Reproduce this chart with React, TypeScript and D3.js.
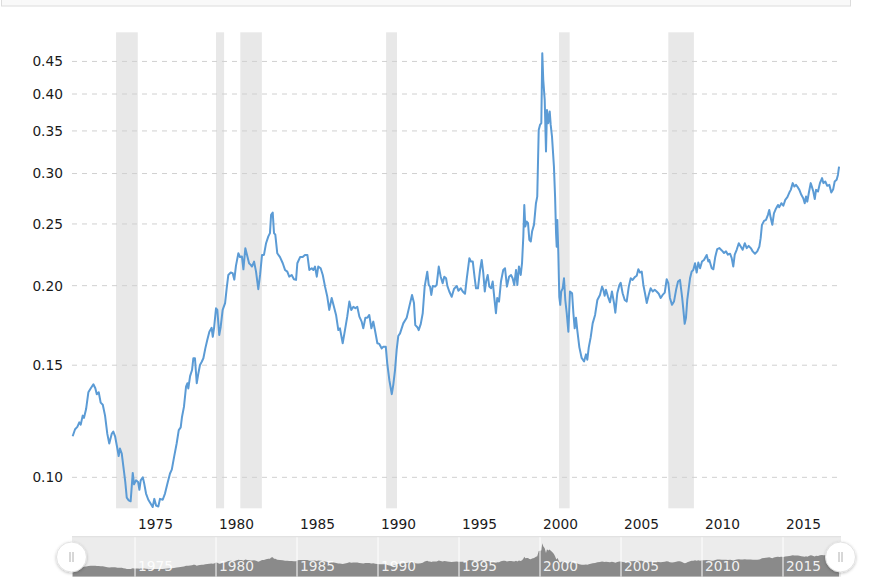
import React from "react";
import * as d3 from "d3";

const dates: number[] = [
  1971.15, 1971.3, 1971.44, 1971.56, 1971.65, 1971.77, 1971.85, 1971.98, 1972.12, 1972.27,
  1972.43, 1972.55, 1972.64, 1972.76, 1972.88, 1973.01, 1973.15, 1973.29, 1973.41, 1973.56,
  1973.66, 1973.77, 1973.91, 1973.99, 1974.07, 1974.18, 1974.28, 1974.4, 1974.49, 1974.61,
  1974.73, 1974.86, 1974.94, 1975.06, 1975.19, 1975.27, 1975.35, 1975.48, 1975.56, 1975.68,
  1975.82, 1975.97, 1976.09, 1976.19, 1976.3, 1976.44, 1976.54, 1976.71, 1976.85, 1976.99,
  1977.16, 1977.27, 1977.41, 1977.57, 1977.7, 1977.82, 1977.9, 1978.02, 1978.15, 1978.23,
  1978.29, 1978.4, 1978.52, 1978.6, 1978.7, 1978.81, 1978.91, 1979.01, 1979.12, 1979.22,
  1979.34, 1979.46, 1979.59, 1979.73, 1979.8, 1979.88, 1980.0, 1980.08, 1980.2, 1980.29,
  1980.41, 1980.56, 1980.66, 1980.76, 1980.91, 1981.03, 1981.13, 1981.23, 1981.38, 1981.48,
  1981.6, 1981.69, 1981.81, 1981.93, 1982.04, 1982.14, 1982.22, 1982.35, 1982.47, 1982.61,
  1982.72, 1982.84, 1982.96, 1983.09, 1983.23, 1983.33, 1983.4, 1983.5, 1983.58, 1983.66,
  1983.78, 1983.95, 1984.12, 1984.26, 1984.4, 1984.52, 1984.67, 1984.81, 1984.94, 1985.02,
  1985.19, 1985.35, 1985.49, 1985.64, 1985.76, 1985.91, 1986.01, 1986.11, 1986.22, 1986.31,
  1986.46, 1986.59, 1986.73, 1986.87, 1986.99, 1987.14, 1987.28, 1987.41, 1987.55, 1987.65,
  1987.82, 1987.96, 1988.1, 1988.23, 1988.35, 1988.48, 1988.6, 1988.72, 1988.85, 1988.99,
  1989.09, 1989.22, 1989.34, 1989.46, 1989.59, 1989.71, 1989.83, 1989.96, 1990.08, 1990.23,
  1990.33, 1990.48, 1990.57, 1990.7, 1990.85, 1990.94, 1991.05, 1991.15, 1991.25, 1991.36,
  1991.56, 1991.77, 1991.93, 1992.1, 1992.22, 1992.3, 1992.43, 1992.51, 1992.64, 1992.76,
  1992.88, 1993.04, 1993.13, 1993.21, 1993.29, 1993.38, 1993.52, 1993.62, 1993.75, 1993.87,
  1993.99, 1994.09, 1994.2, 1994.28, 1994.4, 1994.55, 1994.69, 1994.86, 1994.96, 1995.11,
  1995.23, 1995.37, 1995.48, 1995.64, 1995.74, 1995.85, 1995.97, 1996.05, 1996.17, 1996.3,
  1996.4, 1996.5, 1996.59, 1996.67, 1996.77, 1996.87, 1996.98, 1997.08, 1997.18, 1997.28,
  1997.36, 1997.47, 1997.59, 1997.73, 1997.84, 1997.96, 1998.09, 1998.21, 1998.31, 1998.41,
  1998.52, 1998.6, 1998.7, 1998.81, 1998.89, 1998.97, 1999.03, 1999.09, 1999.18, 1999.26,
  1999.34, 1999.43, 1999.51, 1999.63, 1999.75, 1999.83, 1999.92, 2000.0, 2000.08, 2000.14,
  2000.2, 2000.29, 2000.37, 2000.43, 2000.51, 2000.6, 2000.66, 2000.74, 2000.86, 2000.93,
  2000.99, 2001.03, 2001.07, 2001.13, 2001.19, 2001.25, 2001.31, 2001.4, 2001.48, 2001.56,
  2001.65, 2001.75, 2001.85, 2001.98, 2002.06, 2002.14, 2002.22, 2002.3, 2002.43, 2002.57,
  2002.72, 2002.84, 2002.92, 2003.01, 2003.13, 2003.25, 2003.4, 2003.54, 2003.7, 2003.83,
  2003.91, 2003.99, 2004.07, 2004.2, 2004.32, 2004.44, 2004.57, 2004.65, 2004.77, 2004.9,
  2004.98, 2005.1, 2005.23, 2005.35, 2005.48, 2005.6, 2005.72, 2005.85, 2005.97, 2006.07,
  2006.17, 2006.28, 2006.38, 2006.48, 2006.59, 2006.71, 2006.83, 2006.96, 2007.08, 2007.2,
  2007.33, 2007.45, 2007.57, 2007.7, 2007.82, 2007.92, 2008.02, 2008.15, 2008.27, 2008.4,
  2008.52, 2008.64, 2008.77, 2008.85, 2008.93, 2009.01, 2009.09, 2009.18, 2009.26, 2009.36,
  2009.46, 2009.57, 2009.67, 2009.77, 2009.88, 2010.0, 2010.12, 2010.29, 2010.39, 2010.45,
  2010.6, 2010.7, 2010.82, 2010.94, 2011.07, 2011.22, 2011.36, 2011.48, 2011.6, 2011.73,
  2011.83, 2011.93, 2012.02, 2012.14, 2012.27, 2012.39, 2012.51, 2012.64, 2012.76, 2012.88,
  2013.01, 2013.13, 2013.27, 2013.41, 2013.54, 2013.62, 2013.7, 2013.83, 2013.95, 2014.07,
  2014.15, 2014.24, 2014.34, 2014.44, 2014.57, 2014.69, 2014.77, 2014.9, 2015.02, 2015.14,
  2015.27, 2015.39, 2015.48, 2015.6, 2015.7, 2015.8, 2015.91, 2016.01, 2016.13, 2016.25,
  2016.34, 2016.42, 2016.5, 2016.59, 2016.71, 2016.79, 2016.87, 2016.96, 2017.04, 2017.16,
  2017.28, 2017.41, 2017.49, 2017.61, 2017.73, 2017.86, 2017.98, 2018.1, 2018.19, 2018.31,
  2018.39, 2018.46,
];

const ratio: number[] = [
  0.116, 0.119, 0.12, 0.122, 0.121, 0.125, 0.124, 0.128, 0.136, 0.138,
  0.14, 0.138, 0.135, 0.136, 0.131, 0.13, 0.125, 0.117, 0.113, 0.117,
  0.118, 0.116, 0.111, 0.108, 0.111, 0.109, 0.104, 0.0983, 0.0929, 0.092,
  0.0917, 0.1016, 0.0975, 0.0989, 0.0983, 0.0956, 0.0989, 0.1, 0.098, 0.0943,
  0.0922, 0.0909, 0.0898, 0.0925, 0.0903, 0.09, 0.0925, 0.0922, 0.0943, 0.0975,
  0.1014, 0.1028, 0.1076, 0.113, 0.1186, 0.1198, 0.1244, 0.129, 0.1388, 0.1405,
  0.1379, 0.1442, 0.1474, 0.1538, 0.1538, 0.1405, 0.1456, 0.1501, 0.1519, 0.1538,
  0.1594, 0.1643, 0.1693, 0.1717, 0.1662, 0.1717, 0.1843, 0.1832, 0.1673, 0.1724,
  0.1832, 0.1877, 0.1982, 0.2079, 0.2097, 0.2092, 0.2044, 0.2148, 0.2249, 0.2218,
  0.2222, 0.2122, 0.229, 0.2227, 0.2169, 0.2156, 0.2143, 0.2182, 0.2104, 0.1975,
  0.2079, 0.2235, 0.2235, 0.2332, 0.239, 0.2419, 0.2584, 0.2605, 0.2419, 0.2405,
  0.2249, 0.2218, 0.2169, 0.2117, 0.2104, 0.2066, 0.2079, 0.2047, 0.2042, 0.2169,
  0.2218, 0.2218, 0.2235, 0.2235, 0.2117, 0.213, 0.2117, 0.2143, 0.2066, 0.2143,
  0.213, 0.2079, 0.1993, 0.1921, 0.1832, 0.1913, 0.1853, 0.1799, 0.1703, 0.1714,
  0.1624, 0.1703, 0.1788, 0.1888, 0.1832, 0.1853, 0.1843, 0.1853, 0.1788, 0.1756,
  0.1714, 0.1781, 0.1781, 0.1799, 0.1714, 0.1756, 0.1693, 0.1624, 0.162, 0.1594,
  0.1604, 0.1604, 0.151, 0.1421, 0.1351, 0.1396, 0.1474, 0.1585, 0.1667, 0.1683,
  0.1745, 0.1781, 0.1854, 0.1934, 0.1878, 0.1734, 0.1721, 0.1703, 0.1742, 0.181,
  0.1993, 0.2104, 0.2005, 0.1993, 0.1934, 0.1998, 0.1993, 0.2005, 0.2143, 0.2066,
  0.2017, 0.2066, 0.2054, 0.1998, 0.1958, 0.1921, 0.1976, 0.1998, 0.1964, 0.1981,
  0.1958, 0.1942, 0.2054, 0.2209, 0.2182, 0.2182, 0.2054, 0.1981, 0.1981, 0.2117,
  0.2195, 0.2092, 0.1958, 0.203, 0.2079, 0.1993, 0.1981, 0.203, 0.1913, 0.181,
  0.1913, 0.1888, 0.203, 0.2117, 0.213, 0.1993, 0.2066, 0.2079, 0.2054, 0.2005,
  0.2117, 0.2005, 0.2143, 0.2079, 0.2169, 0.239, 0.2678, 0.2477, 0.2522, 0.2507,
  0.236, 0.2346, 0.2432, 0.2494, 0.2695, 0.276, 0.3513, 0.3577, 0.3599, 0.4637,
  0.421, 0.3916, 0.3249, 0.3776, 0.3599, 0.3755, 0.3577, 0.343, 0.3076, 0.276,
  0.2418, 0.2302, 0.2537, 0.2249, 0.1921, 0.1866, 0.1958, 0.1981, 0.2054, 0.1899,
  0.181, 0.1693, 0.1958, 0.1946, 0.181, 0.1714, 0.1781, 0.1703, 0.16, 0.154,
  0.152, 0.156, 0.153, 0.16, 0.166, 0.1745, 0.1799, 0.1899, 0.1934, 0.1993,
  0.197, 0.1928, 0.197, 0.1921, 0.1883, 0.1958, 0.1878, 0.1814, 0.1946, 0.2005,
  0.2021, 0.1946, 0.1899, 0.1888, 0.1993, 0.2054, 0.2042, 0.2063, 0.2073, 0.2122,
  0.2097, 0.2104, 0.2005, 0.1946, 0.1878, 0.1934, 0.1981, 0.1958, 0.197, 0.1958,
  0.1942, 0.1913, 0.1934, 0.195, 0.2047, 0.2018, 0.1913, 0.1866, 0.1888, 0.197,
  0.203, 0.2042, 0.1921, 0.1832, 0.1742, 0.1781, 0.1899, 0.1981, 0.2054, 0.2104,
  0.2117, 0.2169, 0.2097, 0.2174, 0.213, 0.2182, 0.2195, 0.2235, 0.2182, 0.2195,
  0.213, 0.2122, 0.2221, 0.2283, 0.2291, 0.2272, 0.2251, 0.2264, 0.2237, 0.2245,
  0.2211, 0.2143, 0.2237, 0.2277, 0.2332, 0.2304, 0.2277, 0.2332, 0.2291, 0.2309,
  0.2291, 0.2264, 0.2245, 0.2264, 0.2304, 0.2375, 0.2492, 0.2528, 0.2537, 0.2584,
  0.263, 0.2556, 0.2492, 0.2597, 0.2644, 0.2678, 0.2657, 0.2695, 0.267, 0.2727,
  0.2754, 0.2801, 0.2828, 0.2898, 0.2862, 0.288, 0.2856, 0.2828, 0.2778, 0.2744,
  0.2695, 0.276, 0.271, 0.2794, 0.2898, 0.2856, 0.2811, 0.2736, 0.2828, 0.2811,
  0.2898, 0.2951, 0.2898, 0.2915, 0.287, 0.288, 0.2801, 0.2835, 0.2915, 0.2933,
  0.2985, 0.3076,
];

// Recession periods (start, end) in decimal years
const recessionStart: number[] = [1973.83, 1980.0, 1981.5, 1990.5, 2001.17, 2007.92];
const recessionEnd: number[] = [1975.17, 1980.5, 1982.83, 1991.17, 2001.83, 2009.5];

const yTicks: number[] = [0.1, 0.15, 0.2, 0.25, 0.3, 0.35, 0.4, 0.45];
const xTicks: number[] = [1975, 1980, 1985, 1990, 1995, 2000, 2005, 2010, 2015];

const W = 869;
const H = 582;
const FONT = "'DejaVu Sans', Verdana, sans-serif";

export default function App() {
  const data = dates.map((d, i) => ({ t: d, v: ratio[i] }));

  const plotLeft = 72;
  const plotRight = 841;
  const plotTop = 32.3;
  const plotBottom = 508.3;

  const x = d3.scaleLinear().domain([1971.11, 2018.58]).range([plotLeft, plotRight]);
  const y = d3.scaleLog().domain([0.0894, 0.5]).range([plotBottom, plotTop]);

  const navTop = 536.7;
  const navBottom = 576.7;
  const yNav = d3.scaleLinear().domain([-0.02, 0.56]).range([navBottom, navTop]);

  const line = d3
    .line<{ t: number; v: number }>()
    .x((d) => x(d.t))
    .y((d) => y(d.v));

  const area = d3
    .area<{ t: number; v: number }>()
    .x((d) => x(d.t))
    .y0(navBottom)
    .y1((d) => yNav(d.v));

  const fmt = d3.format(".2f");

  const handleY = 557;

  return (
    <svg
      width={W}
      height={H}
      style={{ position: "absolute", left: 0, top: 0, background: "#fff" }}
      fontFamily={FONT}
    >
      <defs>
        <filter id="hshadow" x="-50%" y="-50%" width="200%" height="200%">
          <feDropShadow dx="0" dy="1" stdDeviation="1.5" floodColor="#000" floodOpacity="0.25" />
        </filter>
        <clipPath id="navclip">
          <rect x={plotLeft} y={navTop} width={plotRight - plotLeft} height={navBottom - navTop} />
        </clipPath>
      </defs>

      {/* top box remnant */}
      <rect x={1.5} y={-12} width={849} height={18} fill="#f9f9f9" stroke="#dcdcdc" strokeWidth={1} />

      {/* recession bands */}
      {recessionStart.map((s, i) => (
        <rect
          key={"r" + i}
          x={x(s)}
          y={plotTop}
          width={x(recessionEnd[i]) - x(s)}
          height={plotBottom - plotTop}
          fill="#e8e8e8"
        />
      ))}

      {/* grid lines */}
      {yTicks.map((t) => (
        <line
          key={"g" + t}
          x1={plotLeft}
          x2={837}
          y1={y(t)}
          y2={y(t)}
          stroke="#d0d0d0"
          strokeWidth={1}
          strokeDasharray="5,5"
        />
      ))}

      {/* y labels */}
      {yTicks.map((t) => (
        <text
          key={"yl" + t}
          x={63}
          y={y(t)}
          dy="0.36em"
          textAnchor="end"
          fontSize={13.75}
          fill="#1a1a1a"
        >
          {fmt(t)}
        </text>
      ))}

      {/* x labels */}
      {xTicks.map((t) => (
        <text key={"xl" + t} x={x(t) + 3} y={529} fontSize={13.75} fill="#1a1a1a">
          {t}
        </text>
      ))}

      {/* main line */}
      <path d={line(data) || ""} fill="none" stroke="#5b9bd5" strokeWidth={2} strokeLinejoin="round" />

      {/* navigator */}
      <rect x={plotLeft} y={navTop} width={plotRight - plotLeft} height={navBottom - navTop} fill="#ececec" />
      <path d={area(data) || ""} fill="#8a8a8a" clipPath="url(#navclip)" />
      {xTicks.map((t) => (
        <line key={"ng" + t} x1={x(t)} x2={x(t)} y1={navTop} y2={navBottom} stroke="#ffffff" strokeWidth={1} />
      ))}
      {xTicks.map((t) => (
        <text key={"nl" + t} x={x(t) + 3} y={571} fontSize={13.75} fill="#ffffff" fillOpacity={0.9}>
          {t}
        </text>
      ))}
      <line x1={plotLeft} x2={plotRight} y1={navTop} y2={navTop} stroke="#dddddd" strokeWidth={1} />

      {/* handles */}
      {[plotLeft - 0.5, plotRight - 0.5].map((hx, i) => (
        <g key={"h" + i}>
          <circle cx={hx} cy={handleY} r={15} fill="#ffffff" stroke="#e2e2e2" strokeWidth={1} filter="url(#hshadow)" />
          <line x1={hx - 1.5} x2={hx - 1.5} y1={handleY - 5} y2={handleY + 5} stroke="#b0b0b0" strokeWidth={1} />
          <line x1={hx + 1.5} x2={hx + 1.5} y1={handleY - 5} y2={handleY + 5} stroke="#b0b0b0" strokeWidth={1} />
        </g>
      ))}
    </svg>
  );
}
